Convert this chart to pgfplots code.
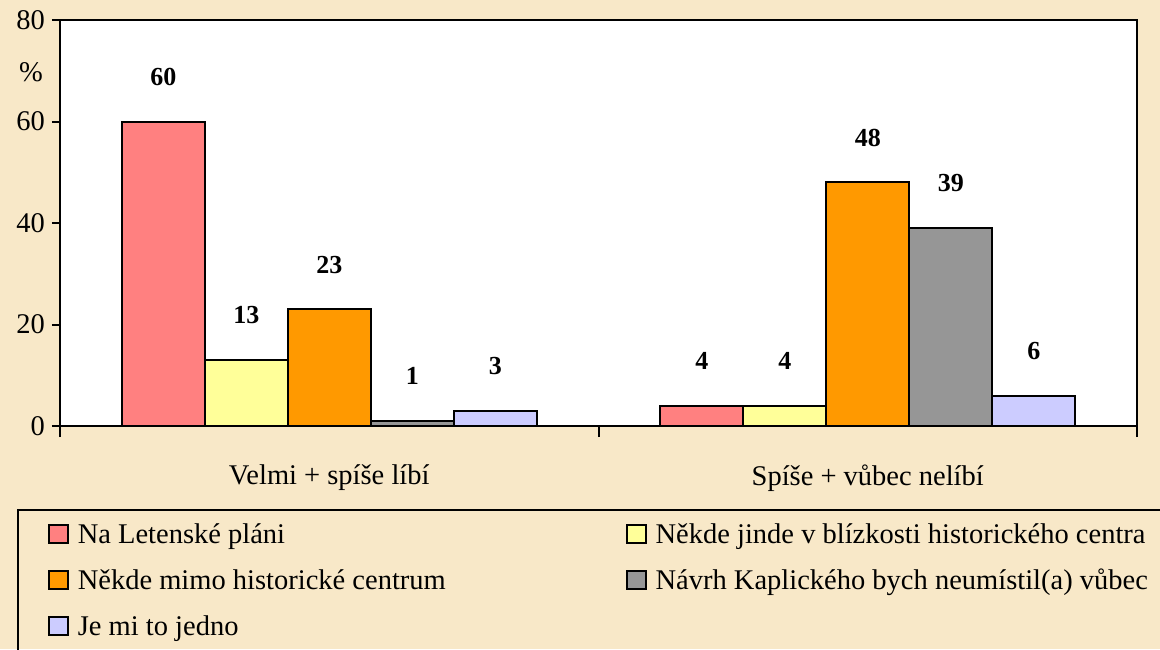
\documentclass[border=0pt]{standalone}
\usepackage{fontspec}
\setmainfont{Liberation Serif}
\usepackage{pgfplots}
\pgfplotsset{compat=1.18}
\definecolor{bg}{HTML}{F8E8C8}
\definecolor{cRed}{HTML}{FF8080}
\definecolor{cYel}{HTML}{FFFF99}
\definecolor{cOra}{HTML}{FF9900}
\definecolor{cGry}{HTML}{969696}
\definecolor{cBlu}{HTML}{CCCCFF}
\newcommand{\mainf}{\fontsize{14.25}{17}\selectfont}
\begin{document}
\begin{tikzpicture}
\useasboundingbox (0,0) rectangle (580pt,-324.5pt);
\fill[bg] (0,0) rectangle (580pt,-324.5pt);
\draw[line width=1pt] (581pt,-255pt) -- (9pt,-255pt) -- (9pt,-326pt);
\node[font=\mainf] at (15.5pt,-36pt) {\%};
\begin{axis}[
  at={(30pt,-213pt)}, anchor=south west,
  width=538.5pt, height=203pt, scale only axis,
  axis background/.style={fill=white},
  axis line style={line width=1pt},
  /pgf/number format/assume math mode=true,
  ybar=0pt, bar width=41.5pt,
  xmin=-0.5, xmax=1.5, ymin=0, ymax=80,
  ytick={0,20,40,60,80},
  xtick={0,1}, xticklabels={Velmi + spíše líbí, Spíše + vůbec nelíbí},
  major x tick style={draw=none},
  extra x ticks={-0.5,0.5,1.5}, extra x tick labels={},
  extra x tick style={major x tick style={draw=black, line width=1pt}, major tick length=5.5pt},
  tick align=outside, tick pos=left,
  major tick length=4pt,
  major y tick style={line width=1pt, black},
  tick label style={font=\mainf},
  xticklabel style={yshift=-12pt},
  nodes near coords,
  every node near coord/.append style={font=\bfseries\fontsize{13}{15}\selectfont, inner sep=0pt, yshift=17.5pt, anchor=south},
  legend columns=2,
  legend cell align=left,
  legend style={at={(axis description cs:0,0)}, anchor=north west, xshift=-6pt, yshift=-48pt,
    draw=none, fill=none, inner sep=0pt, outer sep=0pt, font=\mainf,
    nodes={inner sep=0pt, text height=10.5pt, text depth=3pt},
    row sep=9.5pt,
    /tikz/every odd column/.style={column sep=4.5pt},
    /tikz/column 2/.style={column sep=90pt}},
  legend image code/.code={\draw[#1, line width=0.9pt] (0pt,-3.75pt) rectangle (9.5pt,5.25pt);},
]
\addplot[fill=cRed, draw=black, line width=1pt] coordinates {(0,60) (1,4)};
\addplot[fill=cYel, draw=black, line width=1pt] coordinates {(0,13) (1,4)};
\addplot[fill=cOra, draw=black, line width=1pt] coordinates {(0,23) (1,48)};
\addplot[fill=cGry, draw=black, line width=1pt] coordinates {(0,1) (1,39)};
\addplot[fill=cBlu, draw=black, line width=1pt] coordinates {(0,3) (1,6)};
\legend{Na Letenské pláni, Někde jinde v blízkosti historického centra, Někde mimo historické centrum, Návrh Kaplického bych neumístil(a) vůbec, Je mi to jedno}
\end{axis}
\end{tikzpicture}
\end{document}
